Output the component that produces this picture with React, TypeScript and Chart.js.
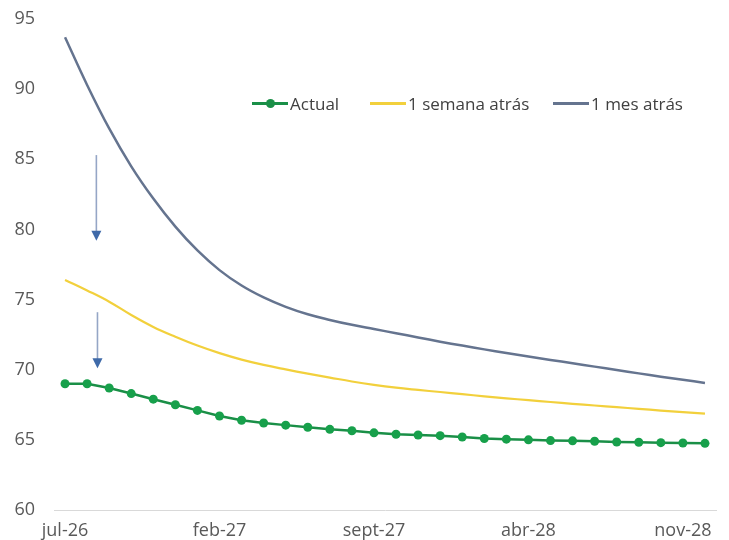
import React, { useEffect, useRef } from "react";
import { Chart, registerables } from "chart.js";

Chart.register(...registerables);

const months = [
  "jul-26", "ago-26", "sept-26", "oct-26", "nov-26", "dic-26",
  "ene-27", "feb-27", "mar-27", "abr-27", "may-27", "jun-27",
  "jul-27", "ago-27", "sept-27", "oct-27", "nov-27", "dic-27",
  "ene-28", "feb-28", "mar-28", "abr-28", "may-28", "jun-28",
  "jul-28", "ago-28", "sept-28", "oct-28", "nov-28", "dic-28",
];
const tickEvery = 7;

const actual = [
  69.0, 69.0, 68.7, 68.3, 67.9, 67.5, 67.1, 66.7, 66.4, 66.2,
  66.05, 65.9, 65.75, 65.65, 65.5, 65.4, 65.35, 65.3, 65.2, 65.1,
  65.05, 65.0, 64.95, 64.93, 64.9, 64.85, 64.83, 64.8, 64.78, 64.75,
];
const oneWeekAgo = [
  76.4, 75.65, 74.85, 73.9, 73.05, 72.35, 71.72, 71.18, 70.72, 70.34,
  70.02, 69.72, 69.44, 69.16, 68.92, 68.72, 68.56, 68.41, 68.26, 68.1,
  67.96, 67.83, 67.7, 67.57, 67.45, 67.33, 67.21, 67.09, 66.98, 66.87,
];
const oneMonthAgo = [
  93.7, 90.3, 87.2, 84.5, 82.2, 80.2, 78.5, 77.1, 76.0, 75.15,
  74.48, 73.95, 73.55, 73.2, 72.9, 72.6, 72.3, 72.0, 71.72, 71.45,
  71.19, 70.94, 70.7, 70.46, 70.22, 69.98, 69.74, 69.5, 69.28, 69.06,
];

const seriesNames = ["Actual", "1 semana atrás", "1 mes atrás"];
const seriesColors = ["#17a04b", "#f2d03c", "#65748f"];

const yMin = 60;
const yMax = 95;
const yStep = 5;

// annotation arrows (x in category index, y in value units)
const arrowX = [1.42, 1.47];
const arrowFrom = [85.3, 74.1];
const arrowTo = [79.2, 70.1];

const FONT = "'Open Sans', sans-serif";

const arrowPlugin = {
  id: "arrows",
  afterDatasetsDraw(chart: any) {
    const { ctx, scales } = chart;
    const xs = scales.x;
    const ys = scales.y;
    ctx.save();
    for (let i = 0; i < arrowX.length; i++) {
      const x = xs.getPixelForValue(arrowX[i]);
      const y1 = ys.getPixelForValue(arrowFrom[i]);
      const y2 = ys.getPixelForValue(arrowTo[i]);
      ctx.strokeStyle = "#95a6c6";
      ctx.lineWidth = 1.6;
      ctx.beginPath();
      ctx.moveTo(x, y1);
      ctx.lineTo(x, y2 - 9);
      ctx.stroke();
      ctx.fillStyle = "#3f6aa9";
      ctx.beginPath();
      ctx.moveTo(x - 5, y2 - 10);
      ctx.lineTo(x + 5, y2 - 10);
      ctx.lineTo(x, y2);
      ctx.closePath();
      ctx.fill();
    }
    ctx.restore();
  },
};

export default function App() {
  const ref = useRef<HTMLCanvasElement | null>(null);

  useEffect(() => {
    if (!ref.current) return;
    const chart = new Chart(ref.current, {
      type: "line",
      data: {
        labels: months,
        datasets: [
          {
            label: seriesNames[0],
            data: actual,
            borderColor: "#1a8f47",
            backgroundColor: seriesColors[0],
            borderWidth: 2.5,
            pointRadius: 4.5,
            pointBackgroundColor: seriesColors[0],
            pointBorderWidth: 0,
            tension: 0,
          },
          {
            label: seriesNames[1],
            data: oneWeekAgo,
            borderColor: seriesColors[1],
            borderWidth: 2.2,
            pointRadius: 0,
            tension: 0.4,
          },
          {
            label: seriesNames[2],
            data: oneMonthAgo,
            borderColor: seriesColors[2],
            borderWidth: 2.5,
            pointRadius: 0,
            tension: 0.4,
          },
        ],
      },
      options: {
        animation: false,
        responsive: false,
        layout: { padding: { top: 19, left: 15, right: 13, bottom: 0 } },
        plugins: {
          legend: { display: false },
          tooltip: { enabled: false },
        },
        scales: {
          x: {
            type: "category",
            offset: true,
            grid: { display: false, drawTicks: false },
            border: { display: true, color: "#d9d9d9", width: 1 },
            afterFit: (s: any) => {
              s.height = 30;
              s.paddingLeft = 0;
              s.paddingRight = 0;
            },
            ticks: {
              autoSkip: false,
              maxRotation: 0,
              padding: 12,
              color: "#595959",
              font: { family: FONT, size: 18, lineHeight: 1 },
              callback: (_v: any, i: number) =>
                i % tickEvery === 0 ? months[i] : "",
            },
          },
          y: {
            min: yMin,
            max: yMax,
            grid: { display: false, drawTicks: false },
            border: { display: false },
            afterFit: (s: any) => {
              s.width = 39;
              s.paddingTop = 0;
              s.paddingBottom = 0;
            },
            ticks: {
              stepSize: yStep,
              padding: 19,
              color: "#595959",
              font: { family: FONT, size: 18 },
            },
          },
        },
      },
      plugins: [arrowPlugin],
    });
    return () => chart.destroy();
  }, []);

  const legendText: React.CSSProperties = {
    fontFamily: FONT,
    fontSize: 17,
    color: "#404040",
    marginLeft: 2,
    whiteSpace: "nowrap",
  };

  const legendLefts = [252, 370, 553];

  const lineSwatch = (color: string, dot: boolean) => (
    <span style={{ position: "relative", display: "inline-block", width: 36, height: 10 }}>
      <span
        style={{
          position: "absolute",
          left: 0,
          right: 0,
          top: 4,
          height: 2.5,
          background: color,
        }}
      />
      {dot && (
        <span
          style={{
            position: "absolute",
            left: 13.5,
            top: 0.5,
            width: 9,
            height: 9,
            borderRadius: "50%",
            background: color,
          }}
        />
      )}
    </span>
  );

  return (
    <div style={{ position: "absolute", left: 0, top: 0, width: 729, height: 540, background: "#fff" }}>
      <canvas ref={ref} width={729} height={540} style={{ display: "block" }} />
      {seriesNames.map((n, i) => (
        <div
          key={n}
          style={{
            position: "absolute",
            left: legendLefts[i],
            top: 91,
            height: 24,
            display: "flex",
            alignItems: "center",
          }}
        >
          {lineSwatch(i === 0 ? "#1a8f47" : seriesColors[i], i === 0)}
          <span style={legendText}>{n}</span>
        </div>
      ))}
    </div>
  );
}
